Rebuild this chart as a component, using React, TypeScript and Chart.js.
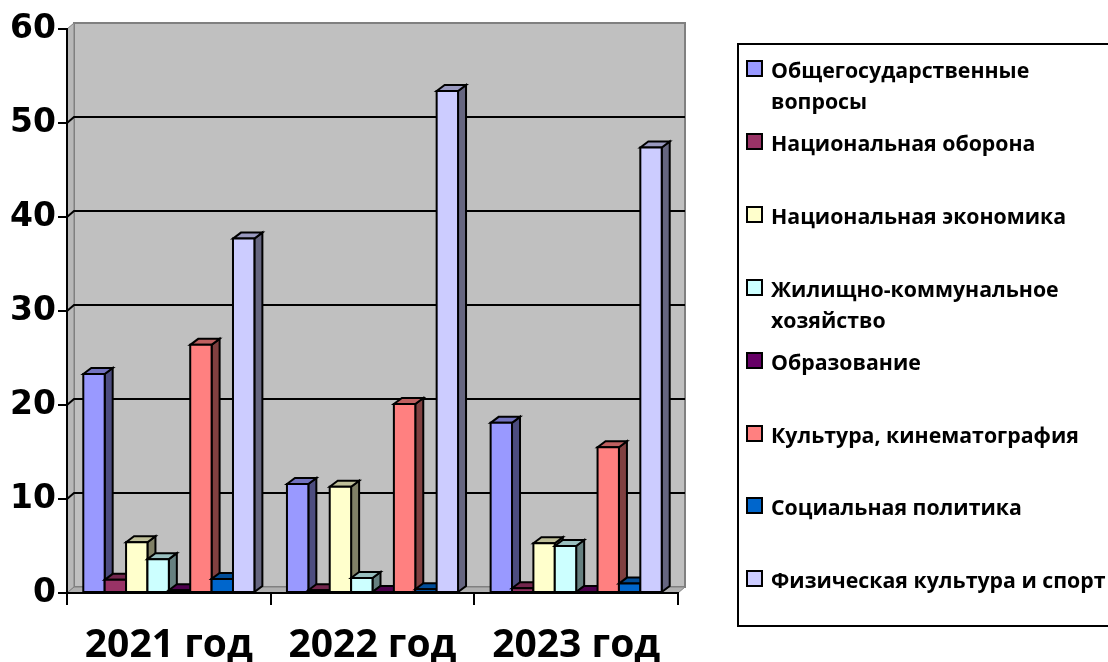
import React, { useEffect, useRef } from 'react';
import { Chart, registerables } from 'chart.js';
Chart.register(...registerables);

const categories = ['2021 год', '2022 год', '2023 год'];
const seriesNames = [
  'Общегосударственные вопросы',
  'Национальная оборона',
  'Национальная экономика',
  'Жилищно-коммунальное хозяйство',
  'Образование',
  'Культура, кинематография',
  'Социальная политика',
  'Физическая культура и спорт',
];
const obshchegos = [23.3, 11.6, 18.1];
const oborona = [1.4, 0.3, 0.5];
const ekonomika = [5.4, 11.3, 5.3];
const zhkh = [3.6, 1.6, 5.0];
const obrazovanie = [0.3, 0.1, 0.1];
const kultura = [26.4, 20.1, 15.5];
const socPolitika = [1.5, 0.4, 1.0];
const fizkultura = [37.7, 53.4, 47.4];
const seriesValues = [obshchegos, oborona, ekonomika, zhkh, obrazovanie, kultura, socPolitika, fizkultura];
const yMin = 0;
const yMax = 60;
const yStep = 10;

const frontColors = ['#9999FF', '#993366', '#FFFFCC', '#CCFFFF', '#660066', '#FF8080', '#0066CC', '#CCCCFF'];
const sideColors = ['#4D4D80', '#4D1A33', '#808066', '#668080', '#330033', '#804040', '#003366', '#666680'];
const topColors = ['#7373BF', '#73264D', '#BFBF99', '#99BFBF', '#4D004D', '#BF6060', '#004D99', '#9999BF'];

const DX = 7;
const DY = 6;

const threeD = {
  id: 'threeD',
  beforeDraw(chart: any) {
    const { ctx, chartArea, scales } = chart;
    const { left, right, top, bottom } = chartArea;
    const y = scales.y;
    ctx.save();
    // back wall
    ctx.fillStyle = '#C0C0C0';
    ctx.fillRect(left + DX, top - DY, right - left, bottom - top);
    ctx.strokeStyle = '#808080';
    ctx.lineWidth = 2;
    ctx.strokeRect(left + DX, top - DY, right - left, bottom - top);
    // left wall
    ctx.lineWidth = 1;
    ctx.beginPath();
    ctx.moveTo(left, top);
    ctx.lineTo(left + DX, top - DY);
    ctx.lineTo(left + DX, bottom - DY);
    ctx.lineTo(left, bottom);
    ctx.closePath();
    ctx.fillStyle = '#B8B8B8';
    ctx.fill();
    ctx.strokeStyle = '#808080';
    ctx.stroke();
    // floor
    ctx.beginPath();
    ctx.moveTo(left, bottom);
    ctx.lineTo(left + DX, bottom - DY);
    ctx.lineTo(right + DX, bottom - DY);
    ctx.lineTo(right, bottom);
    ctx.closePath();
    ctx.fillStyle = '#B0B0B0';
    ctx.fill();
    ctx.strokeStyle = '#808080';
    ctx.stroke();
    // gridlines
    ctx.strokeStyle = '#000000';
    ctx.lineWidth = 2;
    y.ticks.forEach((t: any) => {
      if (t.value <= yMin || t.value >= yMax) return;
      const py = y.getPixelForValue(t.value);
      ctx.beginPath();
      ctx.moveTo(left, py);
      ctx.lineTo(left + DX, py - DY);
      ctx.lineTo(right + DX, py - DY);
      ctx.stroke();
    });
    ctx.restore();
  },
  beforeDatasetDraw() {
    return false;
  },
  afterDatasetsDraw(chart: any) {
    const { ctx } = chart;
    const n = chart.data.labels.length;
    ctx.save();
    ctx.lineWidth = 2;
    ctx.strokeStyle = '#000000';
    ctx.lineJoin = 'miter';
    for (let c = 0; c < n; c++) {
      for (let d = 0; d < chart.data.datasets.length; d++) {
        const el = chart.getDatasetMeta(d).data[c];
        if (!el) continue;
        const { x, y, base, width } = el.getProps(['x', 'y', 'base', 'width'], true);
        const xl = x - width / 2;
        const xr = x + width / 2;
        const bx = 8;
        // side
        ctx.beginPath();
        ctx.moveTo(xr, y);
        ctx.lineTo(xr + bx, y - DY);
        ctx.lineTo(xr + bx, base - DY);
        ctx.lineTo(xr, base);
        ctx.closePath();
        ctx.fillStyle = sideColors[d];
        ctx.fill();
        ctx.stroke();
        // top
        ctx.beginPath();
        ctx.moveTo(xl, y);
        ctx.lineTo(xl + bx, y - DY);
        ctx.lineTo(xr + bx, y - DY);
        ctx.lineTo(xr, y);
        ctx.closePath();
        ctx.fillStyle = topColors[d];
        ctx.fill();
        ctx.stroke();
        // front
        ctx.beginPath();
        ctx.rect(xl, y, width, base - y);
        ctx.fillStyle = frontColors[d];
        ctx.fill();
        ctx.stroke();
      }
    }
    ctx.restore();
  },
};

export default function App() {
  const ref = useRef<HTMLCanvasElement>(null);
  useEffect(() => {
    if (!ref.current) return;
    const chart = new Chart(ref.current, {
      type: 'bar',
      data: {
        labels: categories,
        datasets: seriesNames.map((name, i) => ({
          label: name,
          data: seriesValues[i],
          backgroundColor: frontColors[i],
          borderColor: '#000',
          borderWidth: 2,
          categoryPercentage: 0.84,
          barPercentage: 1,
        })),
      },
      options: {
        animation: false,
        responsive: false,
        maintainAspectRatio: false,
        layout: { padding: { left: 0, right: 430, top: 29, bottom: 0 } },
        plugins: { legend: { display: false }, tooltip: { enabled: false } },
        scales: {
          x: {
            offset: true,
            grid: { display: true, drawOnChartArea: false, drawTicks: true, tickLength: 12, offset: true, color: '#000', lineWidth: 2 },
            border: { display: true, color: '#000', width: 2 },
            ticks: { color: '#000', font: { family: 'Open Sans', size: 39, weight: 'bold' }, padding: 17, maxRotation: 0 },
            afterFit(scale: any) { scale.height = 69; },
          },
          y: {
            min: yMin,
            max: yMax,
            ticks: { stepSize: yStep, color: '#000', font: { family: 'DejaVu Sans', size: 33, weight: 'bold' }, padding: 2 },
            grid: { display: true, drawOnChartArea: false, drawTicks: true, tickLength: 9, color: '#000', lineWidth: 2 },
            border: { display: true, color: '#000', width: 2 },
            afterFit(scale: any) { scale.width = 67; },
          },
        },
      },
      plugins: [threeD],
    } as any);
    return () => chart.destroy();
  }, []);

  return (
    <div style={{ position: 'absolute', left: 0, top: 0, width: 1108, height: 662, overflow: 'hidden', background: '#fff' }}>
      <canvas ref={ref} width={1108} height={662} style={{ position: 'absolute', left: 0, top: 0, width: 1108, height: 662 }} />
      <div
        style={{
          position: 'absolute',
          left: 737,
          top: 43,
          width: 420,
          height: 584,
          border: '2px solid #000',
          boxSizing: 'border-box',
          fontFamily: 'Open Sans',
          fontWeight: 'bold',
          fontSize: 21.3,
          color: '#000',
        }}
      >
        {seriesNames.map((name, i) => (
          <div key={name} style={{ position: 'absolute', left: 0, top: 9 + 72.9 * i, width: 400 }}>
            <div
              style={{
                position: 'absolute',
                left: 7,
                top: 6,
                width: 17,
                height: 17,
                boxSizing: 'border-box',
                border: '2px solid #000',
                background: frontColors[i],
              }}
            />
            <div style={{ position: 'absolute', left: 32, top: 0, width: 345, lineHeight: '31px', whiteSpace: 'normal' }}>{name}</div>
          </div>
        ))}
      </div>
    </div>
  );
}
